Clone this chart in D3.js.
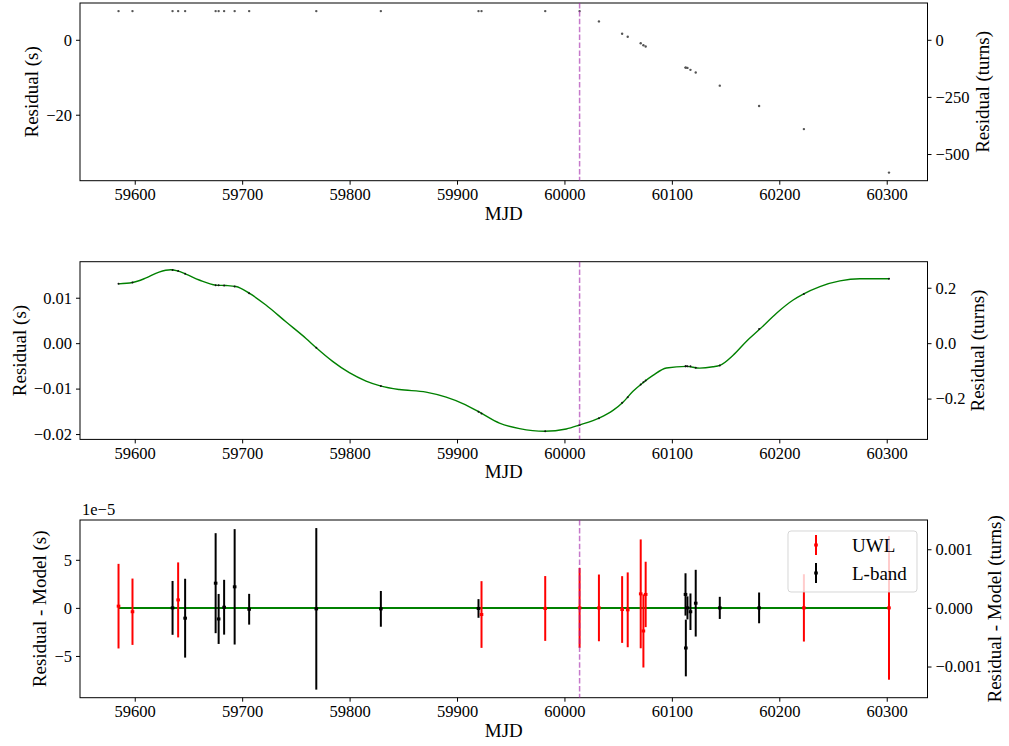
<!DOCTYPE html>
<html>
<head>
<meta charset="utf-8">
<script src="https://cdn.jsdelivr.net/npm/d3@7"></script>
<style>
  body { margin: 0; background: #fff; }
  text { font-family: "Liberation Serif", "Times New Roman", serif; }
</style>
</head>
<body>
<div id="chart"></div>
<script>
// TOA epochs and receiver band
let MJD = [59584.9, 59597.9, 59635.2, 59640.4, 59646.9, 59675.3, 59678.1, 59683.2, 59693.0, 59706.5,
           59769.0, 59829.1, 59920.0, 59922.8, 59982.1, 60014.1, 60032.1, 60053.7, 60058.9, 60071.0,
           60073.5, 60075.6, 60112.7, 60113.0, 60114.5, 60117.3, 60122.2, 60144.6, 60181.2, 60222.9, 60302.1]
let BAND = ["UWL","UWL","L-band","UWL","L-band","L-band","L-band","L-band","L-band","L-band",
            "L-band","L-band","L-band","UWL","UWL","UWL","UWL","UWL","UWL","UWL",
            "UWL","UWL","L-band","L-band","L-band","L-band","L-band","L-band","L-band","UWL","UWL"]
// pre-fit residuals (s)
let PREFIT = [7.66, 7.66, 7.66, 7.66, 7.66, 7.66, 7.66, 7.66, 7.66, 7.66,
              7.66, 7.66, 7.66, 7.66, 7.66, 7.66, 4.90, 1.61, 0.80, -0.91,
              -1.45, -1.79, -7.42, -7.42, -7.50, -8.03, -8.75, -12.24, -17.67, -23.83, -35.45]
// residuals after phase connection (s)
let RESID = [0.01305, 0.01334, 0.01612, 0.0159, 0.0153, 0.01277, 0.01275, 0.0127, 0.01248, 0.0110,
             -0.0010, -0.0094, -0.0151, -0.0155, -0.0194, -0.0180, -0.0165, -0.0131, -0.0119, -0.0091,
             -0.0086, -0.0082, -0.0051, -0.0051, -0.0051, -0.0051, -0.0054, -0.0049, 0.0031, 0.0108, 0.01416]
// residual - model and uncertainty (units of 1e-5 s)
let POST = [0.18, -0.4, 0.0, 0.83, -1.07, 2.57, -1.15, 0.07, 2.19, -0.14,
            -0.1, -0.1, -0.06, -0.69, -0.06, 0.0, 0.0, -0.17, -0.2, 1.46,
            -2.4, 1.4, 1.4, -4.17, 0.0, -0.4, 0.49, 0.0, 0.0, 0.0, 0.0]
let ERR = [4.4, 3.45, 2.8, 3.9, 4.1, 5.2, 2.6, 2.85, 6.0, 1.6,
           8.4, 1.86, 0.97, 3.47, 3.37, 4.15, 3.47, 3.47, 3.89, 5.66,
           3.8, 3.4, 2.2, 2.95, 1.2, 1.9, 3.47, 1.15, 1.6, 3.5, 7.47]

// timing model curve
let MODEL_MJD = [59584.9, 59597.8, 59610, 59622.6, 59633.5, 59639.7, 59647.5, 59660, 59675.5, 59684.8,
                 59694.1, 59706.5, 59722.1, 59740.7, 59759.4, 59768.7, 59784.2, 59799.7, 59815.3, 59829.3,
                 59846.3, 59871.2, 59889.9, 59905.4, 59920.9, 59939.5, 59958.2, 59981.5, 60001.7, 60014.1,
                 60032.7, 60045.2, 60054.5, 60063.8, 60073.1, 60082.4, 60094.9, 60113.5, 60125.9, 60138.3,
                 60144.6, 60157, 60169.5, 60181.9, 60197.4, 60212.9, 60222.3, 60237.8, 60256.5, 60275.1, 60302.1]
let MODEL_RES = [0.01305, 0.01334, 0.0143, 0.01564, 0.01615, 0.0159, 0.0152, 0.0139, 0.01277, 0.01268,
                 0.01246, 0.0110, 0.0084, 0.0047, 0.00104, -0.00095, -0.0040, -0.0065, -0.00834, -0.00944,
                 -0.0102, -0.01077, -0.01188, -0.0133, -0.0152, -0.0176, -0.0188, -0.0194, -0.01888, -0.0180,
                 -0.01644, -0.0148, -0.0130, -0.0106, -0.0087, -0.0071, -0.00546, -0.0051, -0.0055, -0.0052,
                 -0.0049, -0.00265, 0.00044, 0.0031, 0.0066, 0.0095, 0.0108, 0.01246, 0.0137, 0.01416, 0.01416]

let GLEP = 60014.1   // epoch marked by the dashed line
let F0 = 16.4        // spin frequency (turns per second)

let X_TICKS = [59600, 59700, 59800, 59900, 60000, 60100, 60200, 60300]
let TOP_TICKS_S = [-20, 0], TOP_TICKS_T = [-500, -250, 0]
let MID_TICKS_S = [-0.02, -0.01, 0, 0.01], MID_TICKS_T = [-0.2, 0, 0.2]
let BOT_TICKS_S = [-5, 0, 5], BOT_TICKS_T = [-0.001, 0, 0.001]

let BAND_COLOR = {"UWL": "red", "L-band": "black"}

var width = 1009, height = 746
var left = 80, right = 927.5, ph = 177.7
var tops = [3, 261.7, 520]
var tickFont = 16.5, labelFont = 19

var svg = d3.select("#chart").append("svg")
  .attr("width", width).attr("height", height)
svg.append("rect").attr("width", width).attr("height", height).attr("fill", "#fff")

// matplotlib-like 5% padding
function padded(lo, hi) {
  var m = 0.05 * (hi - lo)
  return [lo - m, hi + m]
}

var x = d3.scaleLinear().domain(padded(d3.min(MJD), d3.max(MJD))).range([left, right])

function makePanel(i, yDom, yScaleR, ticksL, fmtL, ticksR, fmtR, labelL, labelR) {
  var top = tops[i], bottom = top + ph
  var g = svg.append("g")
  var y = d3.scaleLinear().domain(yDom).range([bottom, top])
  var yr = d3.scaleLinear().domain(yDom.map(yScaleR)).range([bottom, top])

  var ax = g.append("g").attr("transform", "translate(0," + bottom + ")")
    .call(d3.axisBottom(x).tickValues(X_TICKS).tickFormat(d3.format("d")).tickSize(4).tickPadding(4))
  var al = g.append("g").attr("transform", "translate(" + left + ",0)")
    .call(d3.axisLeft(y).tickValues(ticksL).tickFormat(fmtL).tickSize(4).tickPadding(4))
  var ar = g.append("g").attr("transform", "translate(" + right + ",0)")
    .call(d3.axisRight(yr).tickValues(ticksR).tickFormat(fmtR).tickSize(4).tickPadding(4))
  ;[ax, al, ar].forEach(a => {
    a.attr("font-family", null)
    a.select(".domain").remove()
    a.selectAll("text").style("font-size", tickFont + "px").attr("fill", "#000")
      .style("font-family", "'Liberation Serif', serif")
    a.selectAll("line").attr("stroke", "#000")
  })

  g.append("rect").attr("x", left).attr("y", top).attr("width", right - left).attr("height", ph)
    .attr("fill", "none").attr("stroke", "#000").attr("stroke-width", 1)

  g.append("text").attr("x", (left + right) / 2).attr("y", bottom + 39)
    .attr("text-anchor", "middle").style("font-size", labelFont + "px").text("MJD")

  var bl = al.node().getBBox()
  var lx = left + bl.x - 8
  g.append("text").attr("transform", "translate(" + lx + "," + ((top + bottom) / 2) + ") rotate(-90)")
    .attr("text-anchor", "middle").style("font-size", labelFont + "px").text(labelL)
  var br = ar.node().getBBox()
  var rx = right + br.x + br.width + 19
  g.append("text").attr("transform", "translate(" + rx + "," + ((top + bottom) / 2) + ") rotate(-90)")
    .attr("text-anchor", "middle").style("font-size", labelFont + "px").text(labelR)

  var plot = g.append("g")
  return {g: g, plot: plot, y: y, top: top, bottom: bottom}
}

function glitchLine(p) {
  p.g.append("line")
    .attr("x1", x(GLEP)).attr("x2", x(GLEP)).attr("y1", p.top).attr("y2", p.bottom)
    .attr("stroke", "#a020a8").attr("stroke-opacity", 0.6)
    .attr("stroke-width", 1.5).attr("stroke-dasharray", "5.5,2.4")
}

// --- panel 1: pre-fit residuals
var p1 = makePanel(0, padded(d3.min(PREFIT), d3.max(PREFIT)), v => v * F0,
  TOP_TICKS_S, d3.format("d"), TOP_TICKS_T, d3.format("d"), "Residual (s)", "Residual (turns)")
p1.plot.selectAll("circle").data(MJD).enter().append("circle")
  .attr("cx", d => x(d)).attr("cy", (d, i) => p1.y(PREFIT[i]))
  .attr("r", 1.2).attr("fill", "#555")
glitchLine(p1)

// --- panel 2: residuals with model
var allMid = RESID.concat(MODEL_RES)
var p2 = makePanel(1, padded(d3.min(allMid), d3.max(allMid)), v => v * F0,
  MID_TICKS_S, d3.format(".2f"), MID_TICKS_T, d3.format(".1f"), "Residual (s)", "Residual (turns)")
p2.plot.append("path")
  .datum(MODEL_MJD.map((m, i) => [m, MODEL_RES[i]]))
  .attr("fill", "none").attr("stroke", "green").attr("stroke-width", 1.4)
  .attr("d", d3.line().x(d => x(d[0])).y(d => p2.y(d[1])).curve(d3.curveMonotoneX))
p2.plot.selectAll("circle").data(MJD).enter().append("circle")
  .attr("cx", d => x(d)).attr("cy", (d, i) => p2.y(RESID[i]))
  .attr("r", 1).attr("fill", "#111")
glitchLine(p2)

// --- panel 3: residual - model with error bars (1e-5 s)
var lo = d3.min(POST.map((v, i) => v - ERR[i])), hi = d3.max(POST.map((v, i) => v + ERR[i]))
var p3 = makePanel(2, padded(lo, hi), v => v * 1e-5 * F0,
  BOT_TICKS_S, d3.format("d"), BOT_TICKS_T, d3.format(".3f"), "Residual - Model (s)", "Residual - Model (turns)")
p3.plot.append("line")
  .attr("x1", x(d3.min(MJD))).attr("x2", x(d3.max(MJD)))
  .attr("y1", p3.y(0)).attr("y2", p3.y(0))
  .attr("stroke", "green").attr("stroke-width", 2)
var bars = p3.plot.selectAll("g.bar").data(MJD).enter().append("g").attr("class", "bar")
bars.append("line")
  .attr("x1", d => x(d)).attr("x2", d => x(d))
  .attr("y1", (d, i) => p3.y(POST[i] - ERR[i])).attr("y2", (d, i) => p3.y(POST[i] + ERR[i]))
  .attr("stroke", (d, i) => BAND_COLOR[BAND[i]]).attr("stroke-width", 2)
bars.append("rect")
  .attr("x", d => x(d) - 1.8).attr("y", (d, i) => p3.y(POST[i]) - 1.5)
  .attr("width", 3.6).attr("height", 3)
  .attr("fill", (d, i) => BAND_COLOR[BAND[i]])
glitchLine(p3)

svg.append("text").attr("x", left + 2).attr("y", p3.top - 5)
  .style("font-size", tickFont + "px").text("1e\u22125")

// legend
var leg = svg.append("g").attr("transform", "translate(788,531)")
leg.append("rect").attr("width", 129).attr("height", 61).attr("rx", 3)
  .attr("fill", "#fff").attr("fill-opacity", 0.8)
  .attr("stroke", "#ccc").attr("stroke-opacity", 0.8)
var items = leg.selectAll("g.item").data(["UWL", "L-band"]).enter().append("g")
  .attr("class", "item").attr("transform", (d, i) => "translate(0," + (14 + i * 28) + ")")
items.append("line").attr("x1", 28).attr("x2", 28).attr("y1", -10).attr("y2", 10)
  .attr("stroke", d => BAND_COLOR[d]).attr("stroke-width", 2)
items.append("rect").attr("x", 26.2).attr("y", -1.5).attr("width", 3.6).attr("height", 3)
  .attr("fill", d => BAND_COLOR[d])
items.append("text").attr("x", 64).attr("y", 7)
  .style("font-size", labelFont + "px").text(d => d)
</script>
</body>
</html>
